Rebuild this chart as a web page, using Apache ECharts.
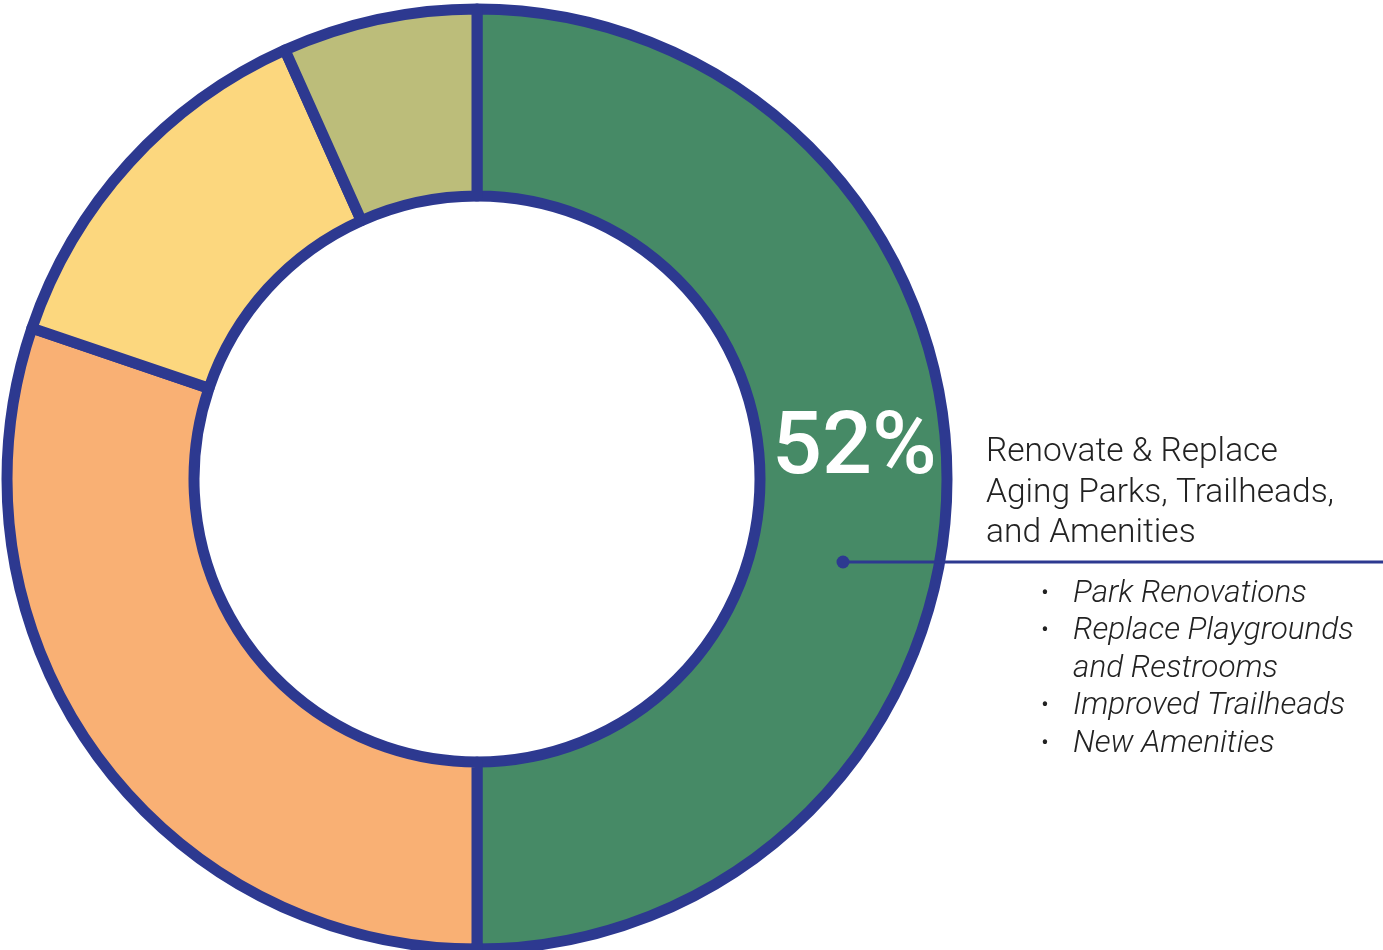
<!DOCTYPE html>
<html>
<head>
<meta charset="utf-8">
<title>Renovate & Replace</title>
<script src="https://cdn.jsdelivr.net/npm/echarts@6/dist/echarts.min.js"></script>
<style>
  html, body { margin: 0; padding: 0; background: #ffffff; }
  #chart { width: 1383px; height: 950px; }
</style>
</head>
<body>
<div id="chart"></div>
<script>
// slices, clockwise from 12 o'clock
const categories = ['Renovate & Replace', 'Category B', 'Category C', 'Category D'];
const values = [50, 30.2, 13.1, 6.7];
const sliceLabels = ['52%', '', '', ''];
const sliceColors = ['#468a66', '#f9b074', '#fcd77e', '#bcbd7a'];

// callout text
const calloutTitle = ['Renovate & Replace', 'Aging Parks, Trailheads,', 'and Amenities'];
const bulletItems = [
  ['Park Renovations'],
  ['Replace Playgrounds', 'and Restrooms'],
  ['Improved Trailheads'],
  ['New Amenities']
];

const NAVY = '#2d3990';
const TEXT = '#222222';

const chart = echarts.init(document.getElementById('chart'));

// build the callout: title lines, then bullets (continuation lines have no bullet)
const callout = [];
calloutTitle.forEach((t, i) => {
  callout.push({
    type: 'text', z: 100,
    style: {
      text: t, x: 986, y: 453 + i * 40.5,
      fill: TEXT, font: '300 33.5px Roboto',
      textAlign: 'left', textVerticalAlign: 'middle'
    }
  });
});
let row = 0;
bulletItems.forEach(item => {
  item.forEach((t, j) => {
    const y = 594 + row * 37.5;
    if (j === 0) {
      callout.push({
        type: 'text', z: 100,
        style: { text: '•', x: 1045, y: y, fill: TEXT, font: '400 22px Roboto',
                 textAlign: 'center', textVerticalAlign: 'middle' }
      });
    }
    callout.push({
      type: 'text', z: 100,
      style: { text: t, x: 1073, y: y, fill: TEXT, font: 'italic 300 31.5px Roboto',
               textAlign: 'left', textVerticalAlign: 'middle' }
    });
    row++;
  });
});

const option = {
  animation: false,
  backgroundColor: '#ffffff',
  series: [{
    type: 'pie',
    center: [477, 479],
    radius: [283, 470],
    startAngle: 90,
    clockwise: true,
    silent: true,
    itemStyle: { borderColor: NAVY, borderWidth: 11 },
    label: { show: false },
    labelLine: { show: false },
    data: categories.map((name, i) => ({
      name: name,
      value: values[i],
      itemStyle: { color: sliceColors[i] },
      label: sliceLabels[i] ? {
        show: true,
        position: 'inside',
        formatter: sliceLabels[i],
        color: '#ffffff',
        fontFamily: 'Roboto',
        fontSize: 88,
        fontWeight: 500,
        offset: [-2, -28]
      } : { show: false }
    }))
  }],
  graphic: [
    { type: 'line', z: 100,
      shape: { x1: 843, y1: 562, x2: 1383, y2: 562 },
      style: { stroke: NAVY, lineWidth: 3 } },
    { type: 'circle', z: 100,
      shape: { cx: 843, cy: 562, r: 6.5 },
      style: { fill: NAVY } }
  ].concat(callout)
};

chart.setOption(option);
</script>
</body>
</html>
